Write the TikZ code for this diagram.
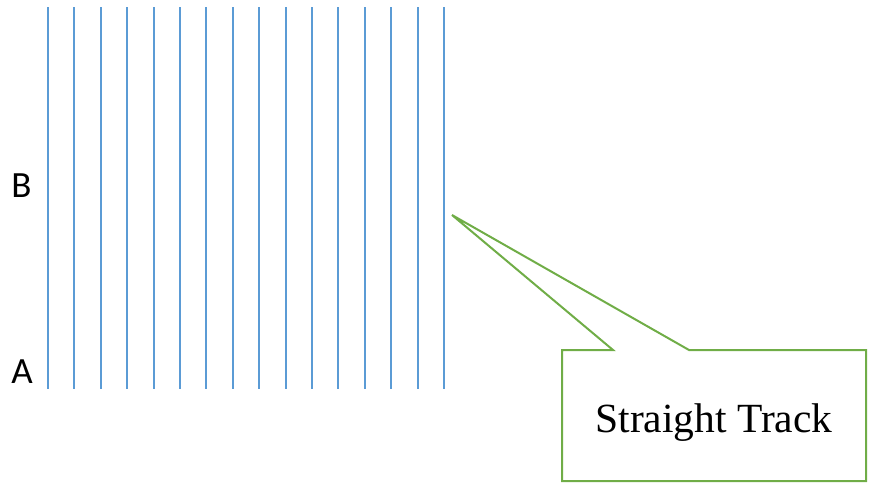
\documentclass[tikz,border=0pt]{standalone}
\usepackage{fontspec}
\setmainfont{Liberation Serif}
\newfontfamily\labelfont{Carlito}
\definecolor{trackblue}{HTML}{5B9BD5}
\definecolor{calloutgreen}{HTML}{70AD47}
\tikzset{
  rail/.style={draw=trackblue, line width=2pt},
  endlabel/.style={anchor=base, inner sep=0pt, font=\labelfont\fontsize{37}{44}\selectfont},
  calloutline/.style={draw=calloutgreen, line width=2pt, line join=miter},
  callouttext/.style={anchor=base, inner sep=0pt, font=\fontsize{41.5}{50}\selectfont}
}
\begin{document}
\begin{tikzpicture}[x=1pt,y=-1pt]
      \useasboundingbox (0,0) rectangle (871,483);
      \foreach \i in {0,...,15} \draw[rail] (48+26.4*\i,7) -- (48+26.4*\i,389);

      \node[endlabel] (B) at (21.5,197) {B};
      \node[endlabel] (A) at (22,383) {A};

      \coordinate (tip) at (452,215);
      \draw[calloutline] (tip) -- (689,350) -- (866,350) -- (866,481) -- (562,481) -- (562,350) -- (613,350) -- cycle;
      \node[callouttext] (track) at (714,432) {Straight Track};
    \end{tikzpicture}
\end{document}
